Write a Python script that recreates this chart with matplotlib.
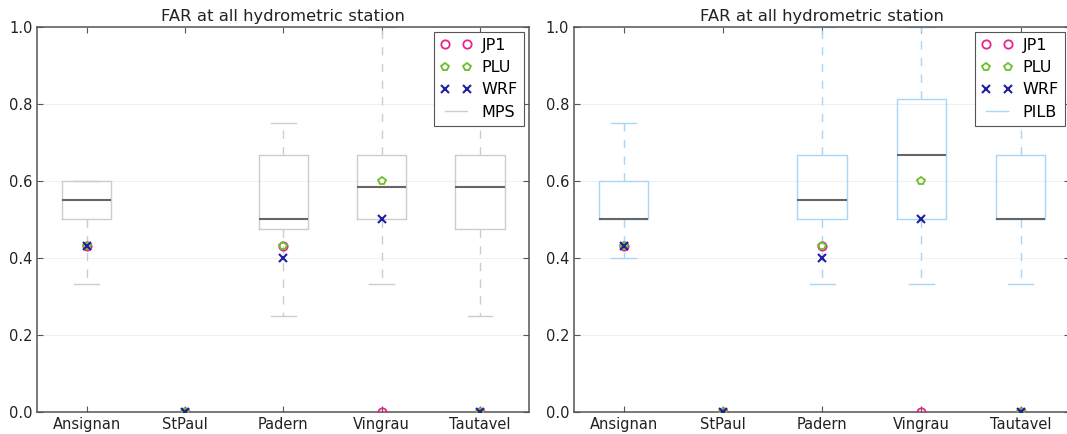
import matplotlib
matplotlib.use('Agg')
import matplotlib.pyplot as plt

stations = ['Ansignan', 'StPaul', 'Padern', 'Vingrau', 'Tautavel']

# box statistics (FAR); None = no box drawn
mps_whislo = [0.333, None, 0.25, 0.333, 0.25]
mps_q1 = [0.5, None, 0.475, 0.5, 0.475]
mps_med = [0.55, None, 0.5, 0.583, 0.583]
mps_q3 = [0.6, None, 0.667, 0.667, 0.667]
mps_whishi = [0.6, None, 0.75, 1.0, 0.75]

pilb_whislo = [0.4, None, 0.333, 0.333, 0.333]
pilb_q1 = [0.5, None, 0.5, 0.5, 0.5]
pilb_med = [0.5, None, 0.55, 0.667, 0.5]
pilb_q3 = [0.6, None, 0.667, 0.8125, 0.667]
pilb_whishi = [0.75, None, 1.0, 1.0, 0.75]

# deterministic runs
jp1 = [0.43, 0.0, 0.43, 0.0, 0.0]
plu = [0.43, 0.0, 0.43, 0.6, 0.0]
wrf = [0.43, 0.0, 0.4, 0.5, 0.0]

pos = list(range(1, len(stations) + 1))


def make_stats(lo, q1, med, q3, hi):
    stats, where = [], []
    for p, a, b, c, d, e in zip(pos, lo, q1, med, q3, hi):
        if a is None:
            continue
        stats.append(dict(whislo=a, q1=b, med=c, q3=d, whishi=e, fliers=[]))
        where.append(p)
    return stats, where


def panel(ax, data, col, name):
    stats, where = data
    ax.yaxis.grid(True, color='#f0f0f0', linestyle='-', linewidth=0.8)
    ax.set_axisbelow(True)
    bp = ax.bxp(stats, positions=where, widths=0.5, showfliers=False,
                boxprops=dict(color=col, linewidth=1),
                whiskerprops=dict(color=col, linestyle=(0, (6, 6)), linewidth=1),
                capprops=dict(color=col, linewidth=1),
                medianprops=dict(color='#666666', linewidth=1.5))
    ax.plot(pos, jp1, 'o', mfc='none', mec='#e8258a', mew=1.3, ms=6, label='JP1', zorder=5)
    ax.plot(pos, plu, 'p', mfc='none', mec='#6cbf2a', mew=1.3, ms=6, label='PLU', zorder=5)
    ax.plot(pos, wrf, 'x', color='#1f1fa0', mew=1.5, ms=6, label='WRF', zorder=6)
    h, l = ax.get_legend_handles_labels()
    box = bp['boxes'][0]
    leg = ax.legend(h + [box], l + [name], loc='upper right', numpoints=2,
                    fancybox=False, framealpha=1, edgecolor='#555555',
                    fontsize=11.5, handlelength=2.0, borderaxespad=0.3,
                    labelspacing=0.45, handletextpad=0.6)
    leg.get_frame().set_linewidth(0.8)
    ax.set_xlim(0.5, 5.5)
    ax.set_ylim(0, 1.0)
    ax.set_yticks([0.0, 0.2, 0.4, 0.6, 0.8, 1.0])
    ax.set_xticks(pos)
    ax.set_xticklabels(stations)
    ax.tick_params(direction='in', top=True, right=True, labelsize=10.5,
                   color='#555555', length=4, labelcolor='#222222')
    for s in ax.spines.values():
        s.set_color('#555555')
        s.set_linewidth(1.1)
    ax.set_title('FAR at all hydrometric station', fontsize=11.8, pad=4, color='#222222')


fig = plt.figure(figsize=(10.67, 4.34), dpi=100)
ax1 = fig.add_axes([0.035, 0.051, 0.461, 0.887])
ax2 = fig.add_axes([0.538, 0.051, 0.465, 0.887])

panel(ax1, make_stats(mps_whislo, mps_q1, mps_med, mps_q3, mps_whishi), '#cccccc', 'MPS')
panel(ax2, make_stats(pilb_whislo, pilb_q1, pilb_med, pilb_q3, pilb_whishi), '#a9d6f5', 'PILB')

fig.savefig('out.png', dpi=100)
